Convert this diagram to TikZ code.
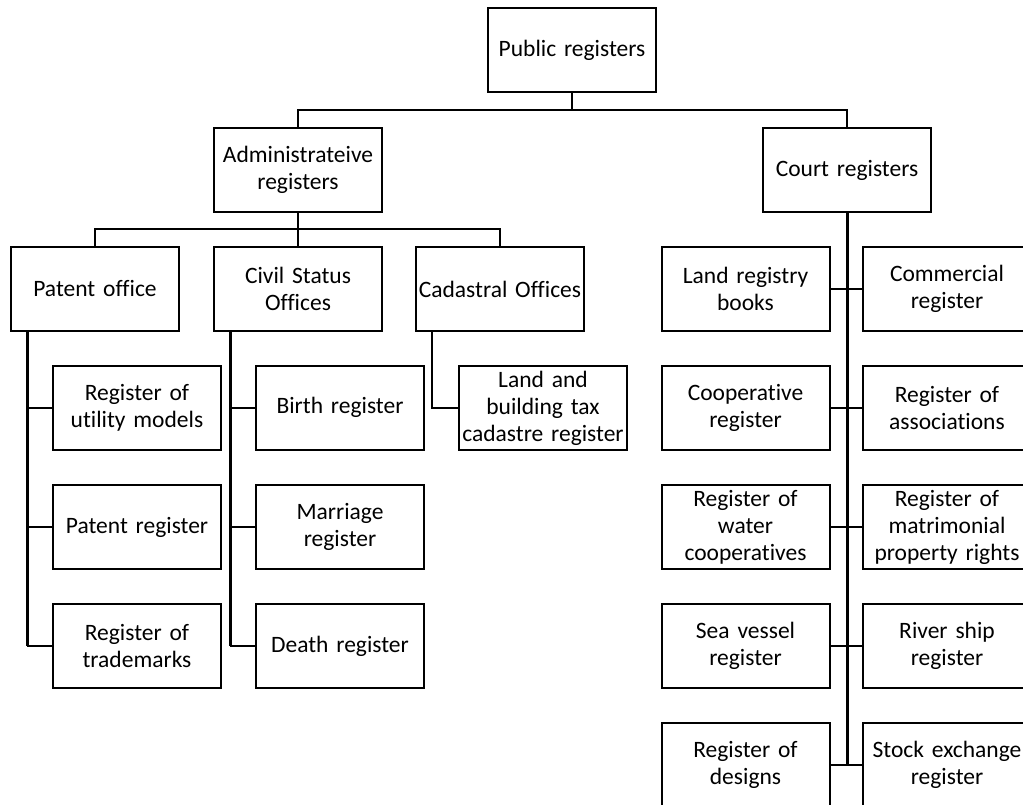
\documentclass[tikz,border=0pt]{standalone}
\usepackage{fontspec}
\setmainfont{Carlito}[Ligatures=NoCommon]

\tikzset{
  regbox/.style={draw, line width=2pt, minimum width=168pt, minimum height=84pt,
    text width=168pt, inner sep=0pt, align=center,
    font=\fontsize{23.5}{27}\selectfont},
  link/.style={line width=2pt},
  trunk/.style={line width=3pt}
}

\begin{document}
\begin{tikzpicture}[x=1pt,y=-1pt]

\clip (0,0) rectangle (1023,805);

\node[regbox] (pub)   at (572,50.5) {Public registers};
\node[regbox] (admin) at (298,170)  {Administrateive\\registers};
\node[regbox] (court) at (847,170)  {Court registers};

\node[regbox] (patent)    at (95,289)  {Patent office};
\node[regbox] (civil)     at (298,289) {Civil Status\\Offices};
\node[regbox] (cadastral) at (500,289) {Cadastral Offices};

\node[regbox] (utility)   at (137,407.5) {Register of\\utility models};
\node[regbox] (patreg)    at (137,527)   {Patent register};
\node[regbox] (trademark) at (137,646)   {Register of\\trademarks};

\node[regbox] (birth)    at (340,407.5) {Birth register};
\node[regbox] (marriage) at (340,527)   {Marriage\\register};
\node[regbox] (death)    at (340,646)   {Death register};

\node[regbox] (landtax) at (543,408) {Land and\\building tax\\cadastre register};

\node[regbox] (landbooks)  at (745.5,289) {Land registry\\books};
\node[regbox] (commercial) at (947,289)   {Commercial\\register};
\node[regbox] (coop)       at (745.5,408) {Cooperative\\register};
\node[regbox] (assoc)      at (947,408)   {Register of\\associations};
\node[regbox] (water)      at (745.5,527) {Register of\\water\\cooperatives};
\node[regbox] (matrimony)  at (947,527)   {Register of\\matrimonial\\property rights};
\node[regbox] (seavessel)  at (745.5,646) {Sea vessel\\register};
\node[regbox] (rivership)  at (947,646)   {River ship\\register};
\node[regbox] (designs)    at (745.5,765) {Register of\\designs};
\node[regbox] (stockex)    at (947,765)   {Stock exchange\\register};

\coordinate (top bus)   at (572,110);
\coordinate (admin bus) at (298,229);

\draw[link] (pub.south) -- (top bus);
\draw[link] (admin.north) |- (top bus) -| (court.north);

\draw[link] (admin.south) -- (admin bus);
\draw[link] (civil.north) -- (admin bus);
\draw[link] (patent.north) |- (admin bus) -| (cadastral.north);

\coordinate (patent trunk)    at ([xshift=17pt]patent.south west);
\coordinate (civil trunk)     at ([xshift=17pt]civil.south west);
\coordinate (cadastral trunk) at ([xshift=17pt]cadastral.south west);

\draw[trunk] (patent trunk) -- (patent trunk |- trademark.west);
\draw[link] (trademark.west) -- (trademark.west -| patent trunk);
\draw[link] (utility.west) -- (utility.west -| patent trunk);
\draw[link] (patreg.west) -- (patreg.west -| patent trunk);

\draw[trunk] (civil trunk) -- (civil trunk |- death.west);
\draw[link] (death.west) -- (death.west -| civil trunk);
\draw[link] (birth.west) -- (birth.west -| civil trunk);
\draw[link] (marriage.west) -- (marriage.west -| civil trunk);

\draw[link] (cadastral trunk) |- (landtax.west);

\draw[trunk] (court.south) -- (court.south |- designs.east);
\foreach \l/\r in {landbooks/commercial, coop/assoc, water/matrimony,
                   seavessel/rivership, designs/stockex}
  \draw[link] (\l.east) -- (\r.west);

\end{tikzpicture}
\end{document}
